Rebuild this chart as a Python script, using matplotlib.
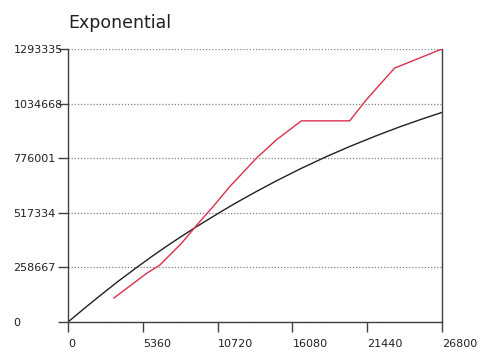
import matplotlib
matplotlib.use("Agg")
import matplotlib.pyplot as plt

# Data
x_ticks = [0, 5360, 10720, 16080, 21440, 26800]
y_ticks = [0, 258667, 517334, 776001, 1034668, 1293335]

black_x = [0, 1200, 2243, 3500, 4873, 6000, 7023, 8000, 9173, 10720, 12000, 13522,
           15000, 16720, 18500, 20208, 22000, 23791, 25300, 26800]
black_y = [0, 66000, 122000, 188000, 256000, 310000, 357000, 400000, 450000, 513000,
           563000, 619000, 671000, 728000, 783000, 832000, 880000, 925000, 960000, 993000]

red_x = [3296, 5613, 6569, 8121, 9435, 10390, 11585, 13496, 14929, 16720, 20184, 21378, 22333, 23408, 26800]
red_y = [113976, 229535, 269110, 372005, 474900, 546135, 641115, 775670, 862735, 952966, 952966, 1052695, 1123930, 1203080, 1293335]

title = "Exponential"

plt.rcParams['font.family'] = ['DejaVu Sans']

fig = plt.figure(figsize=(4.8, 3.52), dpi=100)
ax = fig.add_axes([68/480, 30/352, 374/480, 273/352])

ax.plot(black_x, black_y, color="#202020", lw=1.0)
ax.plot(red_x, red_y, color="#d9304e", lw=1.0)

ax.set_xlim(x_ticks[0], x_ticks[-1])
ax.set_ylim(y_ticks[0], y_ticks[-1])

ax.set_xticks(x_ticks)
ax.set_xticklabels([str(v) for v in x_ticks], fontsize=8, ha="left")
ax.set_yticks(y_ticks)
ax.set_yticklabels([str(v) for v in y_ticks], fontsize=8, ha="left")

ax.tick_params(axis="both", direction="out", length=7.2, width=1.0, color="#404040")
ax.tick_params(axis="y", pad=32)
ax.tick_params(axis="x", pad=5)

for lbl in ax.get_xticklabels() + ax.get_yticklabels():
    lbl.set_color("#202020")

ax.yaxis.grid(True, linestyle=(0, (1, 1.5)), color="#808080", lw=0.9)
ax.set_axisbelow(True)

ax.spines["top"].set_visible(False)
for s in ["left", "right", "bottom"]:
    ax.spines[s].set_color("#404040")
    ax.spines[s].set_linewidth(1.0)

fig.text(68/480, 1 - 28/352, title, fontsize=12.5, color="#202020", ha="left", va="baseline")

fig.savefig("out.png", dpi=100)
